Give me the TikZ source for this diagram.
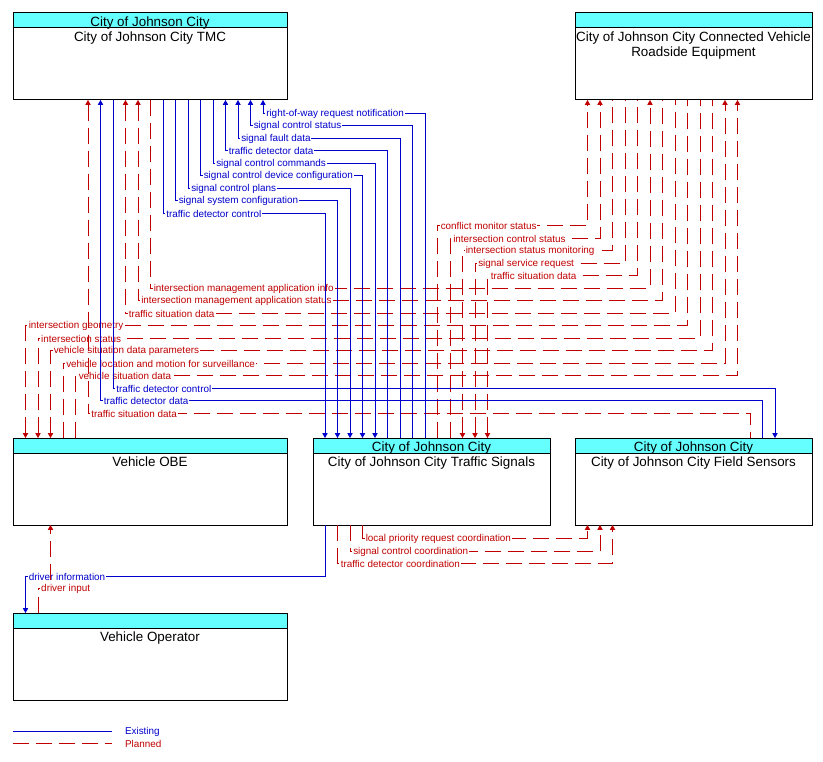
\documentclass[tikz,border=0pt]{standalone}
\usepackage{fontspec}
\setmainfont{Liberation Sans}
\usetikzlibrary{arrows.meta,calc}
\definecolor{exblue}{RGB}{0,0,204}
\definecolor{plred}{RGB}{192,0,0}
\definecolor{hdrcyan}{RGB}{102,255,255}
\begin{document}
\begin{tikzpicture}[x=1pt,y=-1pt,
  boxbody/.style={draw=black,line width=1pt,inner sep=0pt,outer sep=0pt,anchor=north west},
  boxhdr/.style={draw=black,fill=hdrcyan,line width=1pt,inner sep=0pt,outer sep=0pt,anchor=north west,minimum height=15pt},
  ttl/.style={font=\fontsize{13.4}{15}\selectfont,anchor=base,inner sep=0pt},
  ex/.style={draw=exblue,line width=0.9pt},
  pl/.style={draw=plred,line width=0.9pt,dash pattern=on 16pt off 7pt},
  toend/.style={-{Triangle[length=4.8pt,width=5.2pt]}},
  tostart/.style={{Triangle[length=4.8pt,width=5.2pt]}-},
  lab/.style={font=\fontsize{9.9}{11}\selectfont,anchor=west,inner sep=0.8pt,fill=white,xshift=2pt,yshift=-0.8pt,pos=0.5},
  exlab/.style={lab,text=exblue},
  pllab/.style={lab,text=plred},
  legtext/.style={font=\fontsize{9.9}{11}\selectfont,anchor=west,inner sep=0.8pt,yshift=-0.8pt}
]
\useasboundingbox (0,0) rectangle (823,762);
\fill[white] (0,0) rectangle (823,762);

% ---------- boxes ----------
\node[boxhdr,minimum width=274pt] (tmch) at (13,13) {};
\node[boxbody,minimum width=274pt,minimum height=87pt] (tmc) at (13,13) {};
\node[ttl] (tmchl) at ($(tmc.north)+(0,13.5)$) {City of Johnson City};
\node[ttl] (tmcl) at ($(tmc.north)+(0,28.4)$) {City of Johnson City TMC};

\node[boxhdr,minimum width=237pt] (rseh) at (575,13) {};
\node[boxbody,minimum width=237pt,minimum height=87pt] (rse) at (575,13) {};
\node[ttl] (rsel) at ($(rse.north)+(0,28.4)$) {City of Johnson City Connected Vehicle};
\node[ttl] (rsel2) at ($(rse.north)+(0,43.4)$) {Roadside Equipment};

\node[boxhdr,minimum width=274pt] (obeh) at (13,438) {};
\node[boxbody,minimum width=274pt,minimum height=87pt] (obe) at (13,438) {};
\node[ttl] (obel) at ($(obe.north)+(0,28.4)$) {Vehicle OBE};

\node[boxhdr,minimum width=237pt] (sigh) at (313,438) {};
\node[boxbody,minimum width=237pt,minimum height=87pt] (sig) at (313,438) {};
\node[ttl] (sighl) at ($(sig.north)+(0,13.5)$) {City of Johnson City};
\node[ttl] (sigl) at ($(sig.north)+(0,28.4)$) {City of Johnson City Traffic Signals};

\node[boxhdr,minimum width=237pt] (fsh) at (575,438) {};
\node[boxbody,minimum width=237pt,minimum height=87pt] (fs) at (575,438) {};
\node[ttl] (fshl) at ($(fs.north)+(0,13.5)$) {City of Johnson City};
\node[ttl] (fsl) at ($(fs.north)+(0,28.4)$) {City of Johnson City Field Sensors};

\node[boxhdr,minimum width=274pt] (voh) at (13,613) {};
\node[boxbody,minimum width=274pt,minimum height=87pt] (vo) at (13,613) {};
\node[ttl] (vol) at ($(vo.north)+(0,28.4)$) {Vehicle Operator};

% ---------- RSE <-> Traffic Signals ----------
\draw[pl,toend] ([xshift=124.5pt]sig.north west) |- node[pllab] (f16) {conflict monitor status} (587.5,225.5) -- ([xshift=12.5pt]rse.south west);
\draw[pl,toend] ([xshift=137pt]sig.north west) |- node[pllab] (f17) {intersection control status} (600,238) -- ([xshift=25pt]rse.south west);
\draw[pl,tostart] ([xshift=149.5pt]sig.north west) |- node[pllab] (f18) {intersection status monitoring} (612.5,250.5) -- ([xshift=37.5pt]rse.south west);
\draw[pl,tostart] ([xshift=162pt]sig.north west) |- node[pllab] (f19) {signal service request} (625,263) -- ([xshift=50pt]rse.south west);
\draw[pl,tostart] ([xshift=174.5pt]sig.north west) |- node[pllab] (f20) {traffic situation data} (637.5,275.5) -- ([xshift=62.5pt]rse.south west);

% ---------- OBE <-> RSE ----------
\draw[pl,tostart] ([xshift=12.5pt]obe.north west) |- node[pllab] (f21) {intersection geometry} (687.5,325.5) -- ([xshift=112.5pt]rse.south west);
\draw[pl,tostart] ([xshift=25pt]obe.north west) |- node[pllab] (f22) {intersection status} (700,338) -- ([xshift=125pt]rse.south west);
\draw[pl,tostart] ([xshift=37.5pt]obe.north west) |- node[pllab] (f23) {vehicle situation data parameters} (712.5,350.5) -- ([xshift=137.5pt]rse.south west);
\draw[pl,toend] ([xshift=50pt]obe.north west) |- node[pllab] (f24) {vehicle location and motion for surveillance} (725,363) -- ([xshift=150pt]rse.south west);
\draw[pl,toend] ([xshift=62.5pt]obe.north west) |- node[pllab] (f25) {vehicle situation data} (737.5,375.5) -- ([xshift=162.5pt]rse.south west);

% ---------- TMC <-> RSE ----------
\draw[pl,tostart] ([xshift=112.5pt]tmc.south west) |- node[pllab] (f4) {traffic situation data} (675,313) -- ([xshift=100pt]rse.south west);
\draw[pl,tostart] ([xshift=125pt]tmc.south west) |- node[pllab] (f5) {intersection management application status} (662.5,300.5) -- ([xshift=87.5pt]rse.south west);
\draw[pl,toend] ([xshift=137.5pt]tmc.south west) |- node[pllab] (f6) {intersection management application info} (650,288) -- ([xshift=75pt]rse.south west);

% ---------- TMC <-> Field Sensors ----------
\draw[pl,tostart] ([xshift=75pt]tmc.south west) |- node[pllab] (f1) {traffic situation data} (750,413) -- ([xshift=175pt]fs.north west);
\draw[ex,tostart] ([xshift=87.5pt]tmc.south west) |- node[exlab] (f2) {traffic detector data} (762.5,400.5) -- ([xshift=187.5pt]fs.north west);
\draw[ex,toend] ([xshift=100pt]tmc.south west) |- node[exlab] (f3) {traffic detector control} (775,388) -- ([xshift=200pt]fs.north west);

% ---------- TMC <-> Traffic Signals ----------
\draw[ex,toend] ([xshift=150pt]tmc.south west) |- node[exlab] (f7) {traffic detector control} (325,213) -- ([xshift=12pt]sig.north west);
\draw[ex,toend] ([xshift=162.5pt]tmc.south west) |- node[exlab] (f8) {signal system configuration} (337.5,200.5) -- ([xshift=24.5pt]sig.north west);
\draw[ex,toend] ([xshift=175pt]tmc.south west) |- node[exlab] (f9) {signal control plans} (350,188) -- ([xshift=37pt]sig.north west);
\draw[ex,toend] ([xshift=187.5pt]tmc.south west) |- node[exlab] (f10) {signal control device configuration} (362.5,175.5) -- ([xshift=49.5pt]sig.north west);
\draw[ex,toend] ([xshift=200pt]tmc.south west) |- node[exlab] (f11) {signal control commands} (375,163) -- ([xshift=62pt]sig.north west);
\draw[ex,tostart] ([xshift=212.5pt]tmc.south west) |- node[exlab] (f12) {traffic detector data} (387.5,150.5) -- ([xshift=74.5pt]sig.north west);
\draw[ex,tostart] ([xshift=225pt]tmc.south west) |- node[exlab] (f13) {signal fault data} (400,138) -- ([xshift=87pt]sig.north west);
\draw[ex,tostart] ([xshift=237.5pt]tmc.south west) |- node[exlab] (f14) {signal control status} (412.5,125.5) -- ([xshift=99.5pt]sig.north west);
\draw[ex,tostart] ([xshift=250pt]tmc.south west) |- node[exlab] (f15) {right-of-way request notification} (425,113) -- ([xshift=112pt]sig.north west);

% ---------- Traffic Signals <-> Field Sensors ----------
\draw[pl,toend] ([xshift=49.5pt]sig.south west) |- node[pllab] (f26) {local priority request coordination} (587.5,538.5) -- ([xshift=12.5pt]fs.south west);
\draw[pl,toend] ([xshift=37pt]sig.south west) |- node[pllab] (f27) {signal control coordination} (600,551) -- ([xshift=25pt]fs.south west);
\draw[pl,toend] ([xshift=24.5pt]sig.south west) |- node[pllab] (f28) {traffic detector coordination} (612.5,563.5) -- ([xshift=37.5pt]fs.south west);

% ---------- Vehicle Operator ----------
\draw[ex,tostart] ([xshift=12.5pt]vo.north west) |- node[exlab] (f29) {driver information} (325,576) -- ([xshift=12pt]sig.south west);
\draw[pl,toend] ([xshift=25pt]vo.north west) |- node[pllab] (f30) {driver input} (50.5,588.5) -- ([xshift=37.5pt]obe.south west);

% ---------- legend ----------
\coordinate (le1) at (13,731);
\coordinate (le2) at (112,731);
\coordinate (lp1) at (13,743);
\coordinate (lp2) at (112,743);
\draw[ex] (le1) -- (le2);
\draw[pl] (lp1) -- (lp2);
\node[legtext,text=exblue] (legex) at (124,731) {Existing};
\node[legtext,text=plred] (legpl) at (124,743) {Planned};
\end{tikzpicture}
\end{document}
